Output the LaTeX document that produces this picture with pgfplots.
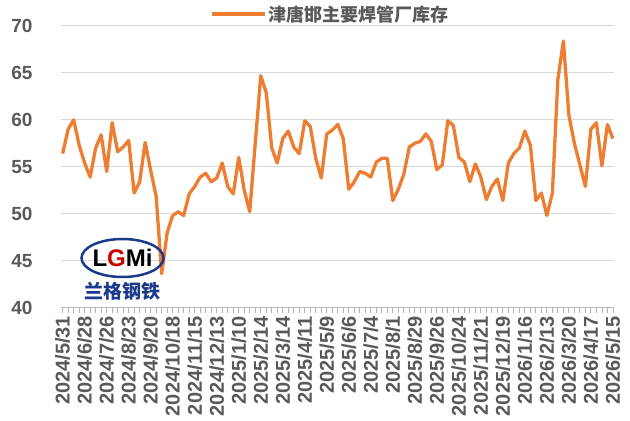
\documentclass[border=0pt]{standalone}
\usepackage{fontspec}
\setmainfont{Liberation Sans}
\newfontfamily\cjk{Noto Sans CJK SC}
\usepackage{pgfplots}
\pgfplotsset{compat=1.18}
\usetikzlibrary{shapes.geometric}
\definecolor{lineorange}{HTML}{ED7D31}
\definecolor{txtgray}{HTML}{595959}
\definecolor{gridgray}{HTML}{D9D9D9}
\definecolor{logoblue}{HTML}{1B3A8C}
\pgfplotstableread{
x y
0 56.4
1 59.0
2 60.0
3 57.3
4 55.4
5 53.9
6 57.0
7 58.4
8 54.5
9 59.7
10 56.6
11 57.1
12 57.8
13 52.2
14 53.4
15 57.6
16 54.6
17 51.8
18 43.6
19 48.0
20 49.8
21 50.2
22 49.8
23 52.1
24 52.9
25 53.9
26 54.3
27 53.4
28 53.8
29 55.4
30 52.9
31 52.1
32 56.0
33 52.5
34 50.2
35 57.5
36 64.7
37 62.9
38 57.0
39 55.4
40 58.0
41 58.8
42 57.1
43 56.4
44 59.9
45 59.3
46 55.9
47 53.8
48 58.5
49 58.9
50 59.5
51 58.0
52 52.6
53 53.4
54 54.5
55 54.3
56 53.9
57 55.5
58 55.9
59 55.9
60 51.4
61 52.6
62 54.2
63 57.1
64 57.5
65 57.7
66 58.5
67 57.7
68 54.7
69 55.2
70 59.9
71 59.4
72 56.0
73 55.5
74 53.4
75 55.3
76 53.9
77 51.5
78 52.9
79 53.7
80 51.4
81 55.4
82 56.4
83 57.0
84 58.8
85 57.3
86 51.4
87 52.2
88 49.8
89 52.2
90 64.3
91 68.4
92 60.5
93 57.5
94 55.2
95 52.9
96 59.0
97 59.7
98 55.1
99 59.5
100 58.0
}\stocktable
\begin{document}
\begin{tikzpicture}
\useasboundingbox (-61bp,-113.5bp) rectangle (569bp,307.5bp);
\begin{axis}[
  scale only axis, width=553bp, height=281.5bp,
  at={(0,0)}, anchor=south west,
  xmin=-0.3, xmax=100.2, ymin=40, ymax=70,
  ytick={40,45,...,70},
  ymajorgrids, grid style={gridgray, line width=1bp},
  xtick={0,4,...,100},
  xticklabels={2024/5/31,2024/6/28,2024/7/26,2024/8/23,2024/9/20,2024/10/18,2024/11/15,2024/12/13,2025/1/10,2025/2/14,2025/3/14,2025/4/11,2025/5/9,2025/6/6,2025/7/4,2025/8/1,2025/8/29,2025/9/26,2025/10/24,2025/11/21,2025/12/19,2026/1/16,2026/2/13,2026/3/20,2026/4/17,2026/5/15},
  minor x tick num=3,
  axis x line*=bottom, axis y line*=left,
  x axis line style={-, draw=gray!55, line width=1bp},
  y axis line style={draw=none},
  ytick style={draw=none},
  xtick style={draw=gray!60, line width=0.8bp},
  minor tick length=5bp, major tick length=5bp,
  tick align=outside,
  /pgf/number format/assume math mode=true,
  xticklabel style={rotate=90, anchor=east, font=\bfseries\fontsize{20bp}{22bp}\selectfont, text=txtgray, xshift=0bp},
  yticklabel style={font=\bfseries\fontsize{19bp}{21bp}\selectfont, text=txtgray, xshift=-20bp},
  legend style={at={(0.2635,1.0426)}, anchor=west, draw=none, fill=none,
    font=\cjk\bfseries\fontsize{18bp}{20bp}\selectfont, text=txtgray},
  legend image code/.code={\draw[lineorange, line width=3.5bp] (0bp,0bp) -- (53bp,0bp);},
]
\addplot[lineorange, line width=3.3bp, line join=round] table[x=x,y=y] {\stocktable};
\addlegendentry{津唐邯主要焊管厂库存}
\end{axis}
\node[draw=logoblue, line width=2.5bp, ellipse, minimum width=82bp, minimum height=38bp] at (61.5bp,49.5bp) {};
\node at (61.5bp,49.5bp) {\bfseries\fontsize{24bp}{24bp}\selectfont L\textcolor{red!80!black}{G}M\textcolor{black}{i}};
\node[text=logoblue] at (61bp,16.5bp) {\cjk\bfseries\fontsize{19bp}{20bp}\selectfont 兰格钢铁};
\end{tikzpicture}
\end{document}
